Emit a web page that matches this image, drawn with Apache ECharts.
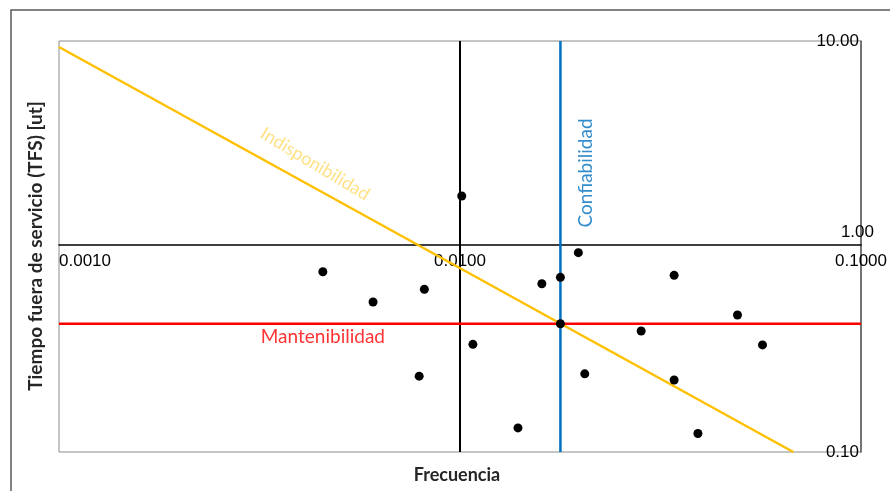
<!DOCTYPE html>
<html>
<head>
<meta charset="utf-8">
<script src="https://cdn.jsdelivr.net/npm/echarts@6/dist/echarts.min.js"></script>
<style>
  html, body { margin: 0; padding: 0; background: #fff; }
  #chart { width: 890px; height: 491px; }
</style>
</head>
<body>
<div id="chart"></div>
<script>
// puntos frecuencia / TFS
var frecuencia = [0.00455, 0.00607, 0.00815, 0.00791, 0.0101, 0.01077, 0.01395, 0.0160, 0.0178,
                  0.0178, 0.01973, 0.02047, 0.0283, 0.0342, 0.0342, 0.0392, 0.0492, 0.0568];
var tfs = [0.754, 0.537, 0.619, 0.234, 1.76, 0.334, 0.131, 0.659, 0.708,
           0.421, 0.933, 0.240, 0.388, 0.724, 0.224, 0.123, 0.464, 0.332];

// limites
var limiteConfiabilidad = 0.0178;   // frecuencia
var limiteMantenibilidad = 0.421;   // TFS
var ejeCruce = 0.01;                // eje vertical
var indisponibilidad = [[0.001, 9.35], [0.0678, 0.1]];

// ejes
var xMin = 0.001, xMax = 0.1;
var yMin = 0.1, yMax = 10;

// etiquetas de texto [x, y, texto]
var etiquetas = [
  [0.00435, 2.52, 'Indisponibilidad'],
  [0.0206, 2.28, 'Confiabilidad'],
  [0.00455, 0.363, 'Mantenibilidad']
];

var chart = echarts.init(document.getElementById('chart'));

var puntos = frecuencia.map(function (f, i) { return [f, tfs[i]]; });

function lineaV(x) { return [[x, yMin], [x, yMax]]; }
function lineaH(y) { return [[xMin, y], [xMax, y]]; }

chart.setOption({
  backgroundColor: '#fff',
  animation: false,
  grid: {
    left: 59,
    top: 41,
    right: 25,
    bottom: 39,
    show: true,
    borderColor: '#8c8c8c',
    borderWidth: 1
  },
  xAxis: {
    type: 'log',
    logBase: 10,
    min: xMin,
    max: xMax,
    position: 'bottom',
    offset: -207,
    axisLine: { show: true, lineStyle: { color: '#000', width: 1.5 } },
    axisTick: { show: false },
    splitLine: { show: false },
    axisLabel: {
      color: '#000',
      fontFamily: 'Liberation Sans',
      fontSize: 17,
      margin: 8,
      alignMinLabel: 'left',
      alignMaxLabel: 'right',
      formatter: function (v) { return v.toFixed(4); }
    }
  },
  yAxis: {
    type: 'log',
    logBase: 10,
    min: yMin,
    max: yMax,
    position: 'right',
    axisLine: { show: true, lineStyle: { color: '#595959', width: 1.5 } },
    axisTick: { show: false },
    splitLine: { show: false },
    axisLabel: {
      inside: true,
      margin: -13,
      color: '#000',
      fontFamily: 'Liberation Sans',
      fontSize: 17,
      formatter: function (v) {
        if (Math.abs(v - 1) < 1e-9) return '{uno|1.00}';
        return '{n|' + v.toFixed(2) + '}';
      },
      rich: {
        n: { fontFamily: 'Liberation Sans', fontSize: 17, color: '#000', padding: [0, 15, 0, 0] },
        uno: { fontFamily: 'Liberation Sans', fontSize: 17, color: '#000', padding: [0, 0, 28, 0] }
      }
    }
  },
  series: [
    {
      name: 'eje',
      type: 'line',
      data: lineaV(ejeCruce),
      showSymbol: false,
      silent: true,
      lineStyle: { color: '#000', width: 2 },
      z: 2
    },
    {
      name: 'Confiabilidad',
      type: 'line',
      data: lineaV(limiteConfiabilidad),
      showSymbol: false,
      silent: true,
      lineStyle: { color: '#0070C0', width: 2.5 },
      z: 2
    },
    {
      name: 'Mantenibilidad',
      type: 'line',
      data: lineaH(limiteMantenibilidad),
      showSymbol: false,
      silent: true,
      lineStyle: { color: '#FF0000', width: 2.5 },
      z: 2
    },
    {
      name: 'Indisponibilidad',
      type: 'line',
      data: indisponibilidad,
      showSymbol: false,
      silent: true,
      lineStyle: { color: '#FFC000', width: 2.5 },
      z: 3
    },
    {
      name: 'TFS',
      type: 'scatter',
      data: puntos,
      symbolSize: 9,
      itemStyle: { color: '#000', opacity: 1 },
      z: 5
    },
    {
      name: 'etiquetas',
      type: 'scatter',
      symbolSize: 0,
      silent: true,
      data: [
        {
          value: etiquetas[0].slice(0, 2),
          label: { show: true, position: 'inside', formatter: etiquetas[0][2], rotate: -31,
                   color: '#FFD966', fontSize: 18, fontFamily: 'Lato' }
        },
        {
          value: etiquetas[1].slice(0, 2),
          label: { show: true, position: 'inside', formatter: etiquetas[1][2], rotate: 90,
                   color: '#0070C0', fontSize: 19, fontFamily: 'Lato' }
        },
        {
          value: etiquetas[2].slice(0, 2),
          label: { show: true, position: 'inside', formatter: etiquetas[2][2],
                   color: '#FF0000', fontSize: 19, fontFamily: 'Lato' }
        }
      ],
      z: 6
    }
  ],
  graphic: [
    {
      type: 'rect',
      shape: { x: 11, y: 10, width: 900, height: 500 },
      style: { fill: 'none', stroke: '#595959', lineWidth: 1.5 },
      silent: true
    },
    {
      type: 'text',
      x: 457, y: 475,
      style: { text: 'Frecuencia', fill: '#262626', font: 'bold 18px Lato', align: 'center', verticalAlign: 'middle' }
    },
    {
      type: 'text',
      x: 36, y: 246,
      rotation: Math.PI / 2,
      style: { text: 'Tiempo fuera de servicio (TFS) [ut]', fill: '#262626', font: 'bold 19px Lato', align: 'center', verticalAlign: 'middle' }
    }
  ]
});
</script>
</body>
</html>
